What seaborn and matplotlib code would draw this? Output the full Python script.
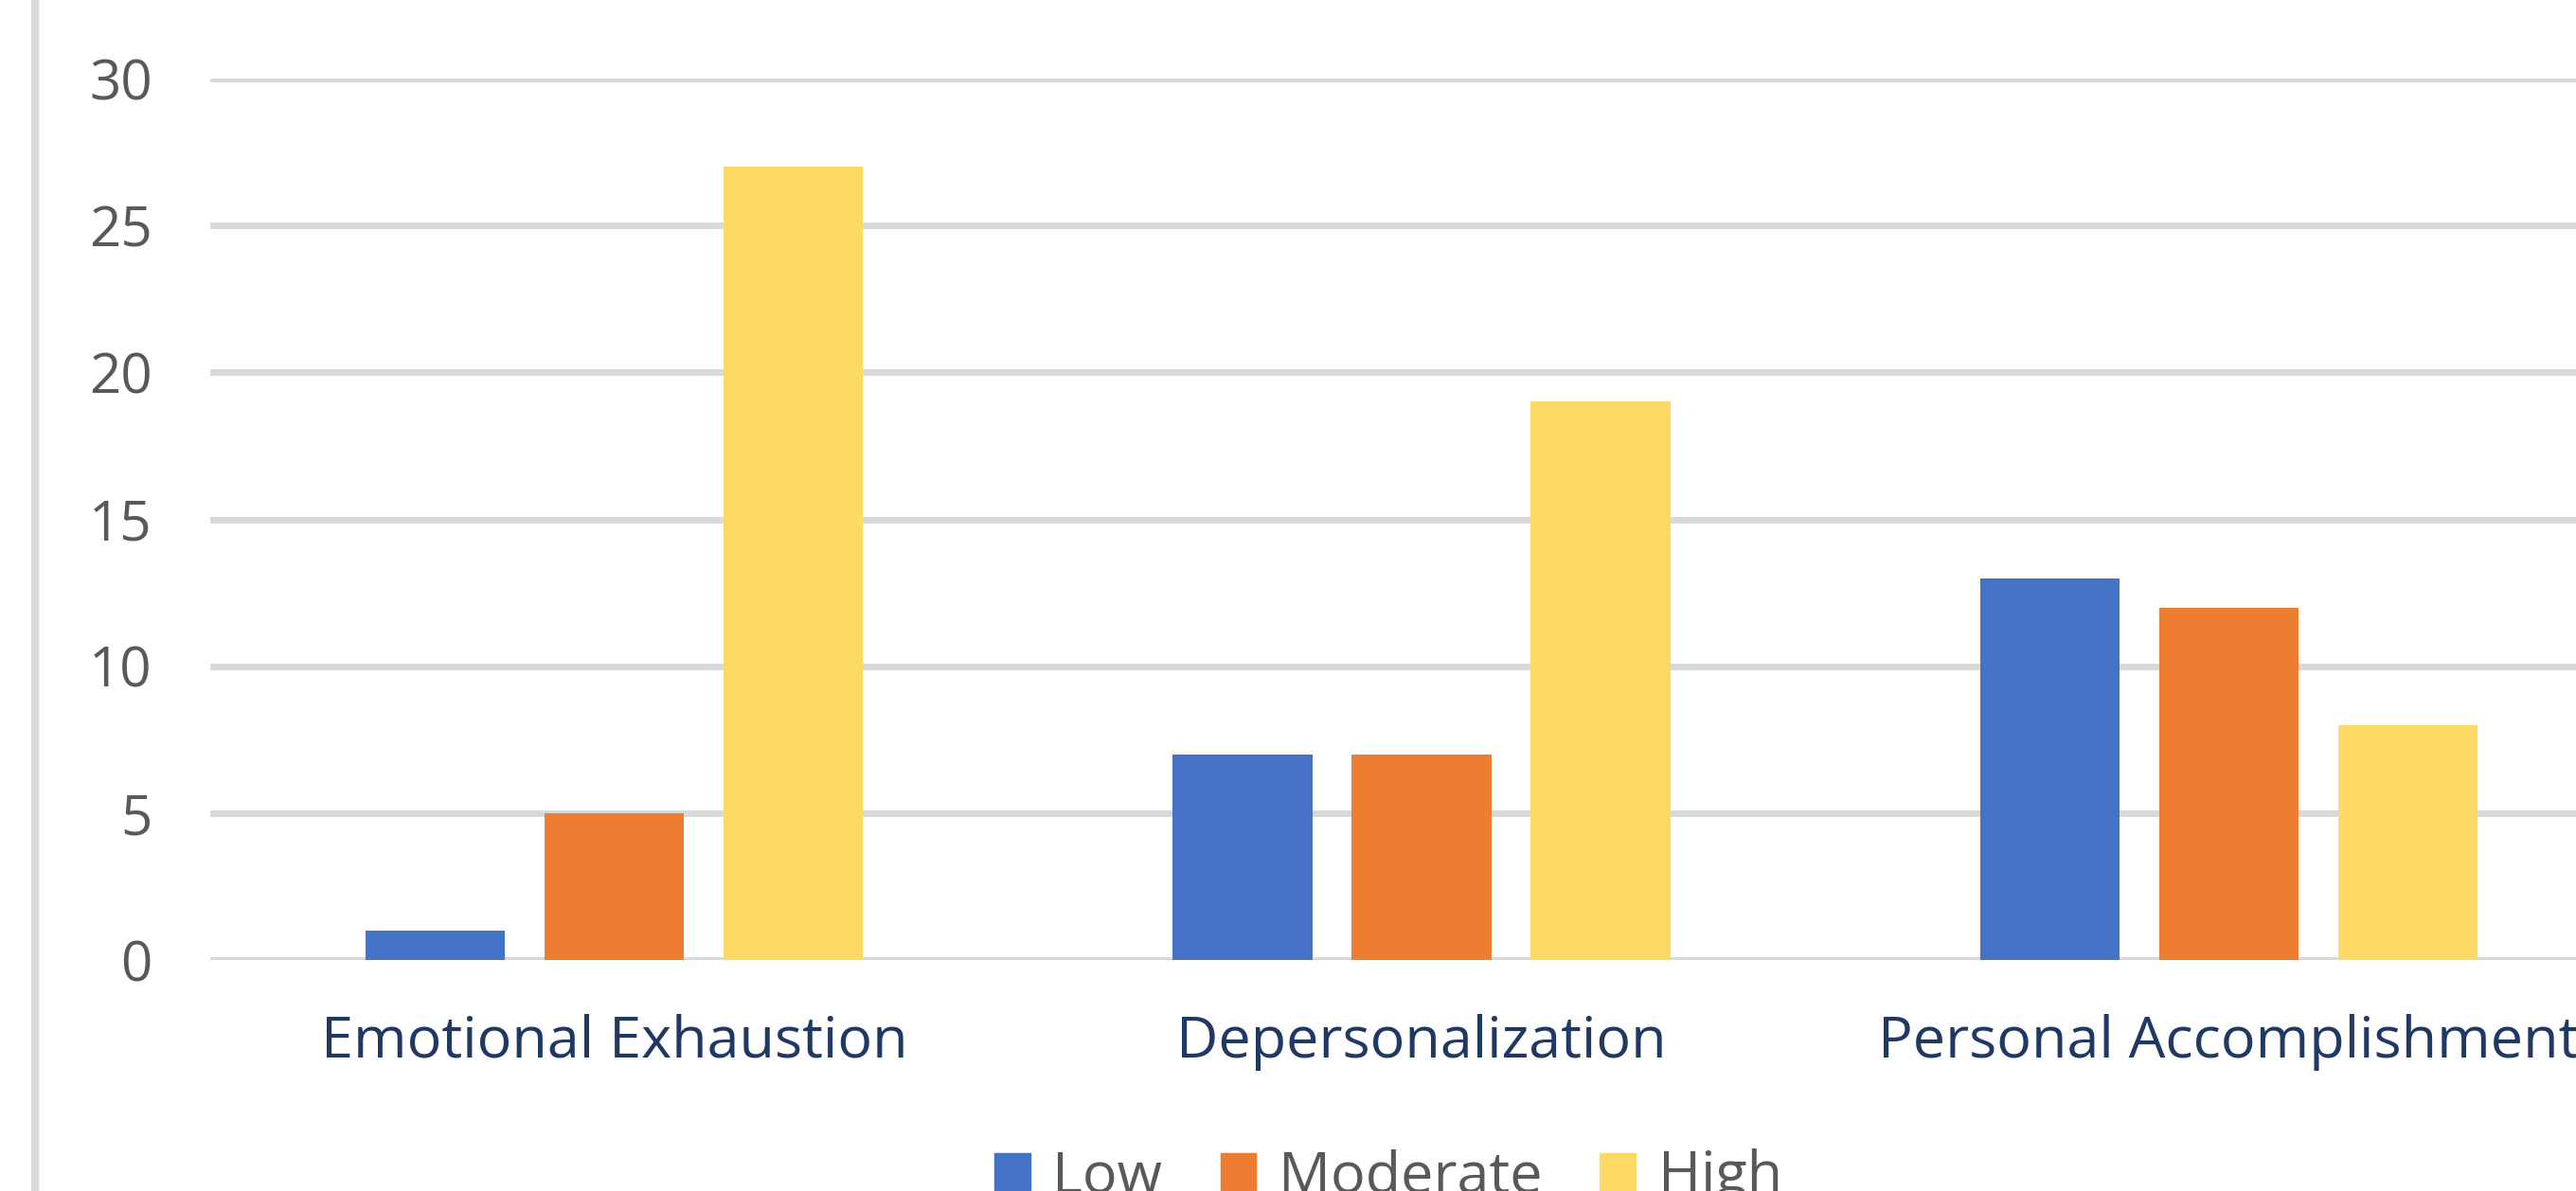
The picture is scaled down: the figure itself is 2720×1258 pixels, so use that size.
import numpy as np
import pandas as pd
import matplotlib
matplotlib.use("Agg")
import matplotlib.pyplot as plt
from matplotlib.lines import Line2D
import seaborn as sns

# ===== data =====
categories = ["Emotional Exhaustion", "Depersonalization", "Personal Accomplishment"]
levels = ["Low", "Moderate", "High"]
low_vals = [1, 7, 13]
moderate_vals = [5, 7, 12]
high_vals = [27, 19, 8]
y_ticks = [0, 5, 10, 15, 20, 25, 30]

colors = ["#4472C4", "#ED7D31", "#FFD966"]
grid_col = "#D9D9D9"

df = pd.DataFrame({
    "category": categories * 3,
    "level": [l for l in levels for _ in categories],
    "value": low_vals + moderate_vals + high_vals,
})

sns.set_theme(style="white")
plt.rcParams["font.family"] = ["Open Sans", "DejaVu Sans"]

W, H = 2720, 1258
fig = plt.figure(figsize=(W / 100, H / 100), dpi=100)

# axes runs past the right edge (the reference is cropped)
left, right = 222, 2780
y0, y30 = 1014, 83
ax = fig.add_axes([left / W, 1 - y0 / H, (right - left) / W, (y0 - y30) / H])

sns.barplot(data=df, x="category", y="value", hue="level", order=categories,
            hue_order=levels, palette=colors, width=0.665, gap=0.22,
            saturation=1, linewidth=0, ax=ax, legend=False)

ax.set_xlim(-0.5, 2.5)
ax.set_ylim(0, 30)
ax.set_yticks(y_ticks)
ax.yaxis.grid(True, color=grid_col, linewidth=5)
ax.set_axisbelow(True)
for s in ax.spines.values():
    s.set_visible(False)
ax.set_xlabel("")
ax.set_ylabel("")
ax.tick_params(axis="y", length=0, pad=44, labelsize=42, labelcolor="#595959")
ax.tick_params(axis="x", length=0, pad=41, labelsize=44, labelcolor="#1F3864")

# light frame line on the left of the chart area
fig.add_artist(Line2D([37 / W, 37 / W], [0, 1], color=grid_col, linewidth=6,
                      transform=fig.transFigure))

handles = [plt.Rectangle((0, 0), 1, 1, color=c) for c in colors]
fig.legend(handles, levels, loc="upper center", bbox_to_anchor=(1466 / W, 1 - 1213 / H),
           ncol=3, frameon=False, fontsize=44, labelcolor="#595959",
           handlelength=0.62, handleheight=0.62, handletextpad=0.38,
           columnspacing=1.0, borderpad=0, borderaxespad=0)

fig.savefig("out.png", dpi=100)
